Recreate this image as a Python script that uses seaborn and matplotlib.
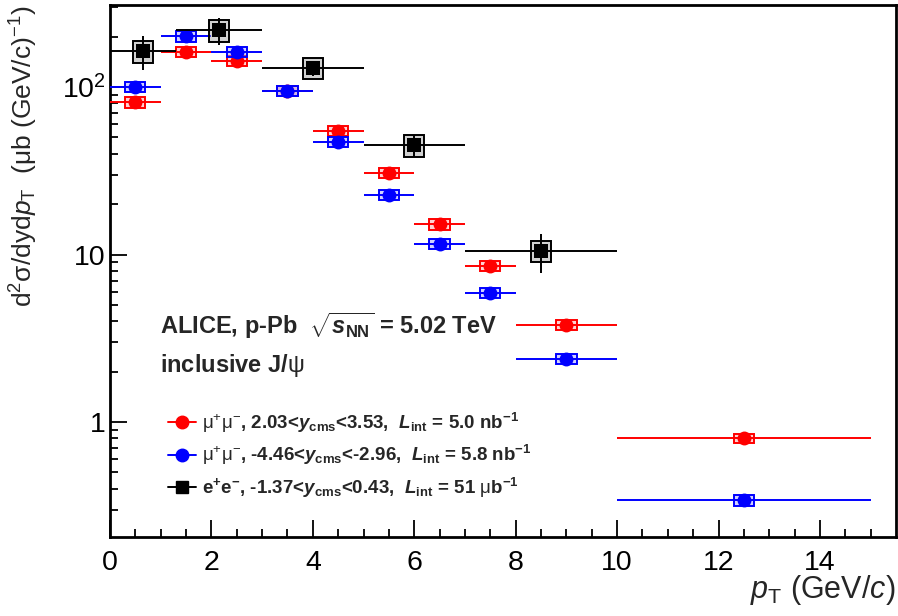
import numpy as np
import pandas as pd
import matplotlib
matplotlib.use("Agg")
import matplotlib.pyplot as plt
import seaborn as sns
from matplotlib.patches import Rectangle
from matplotlib.lines import Line2D
from matplotlib.ticker import FixedLocator, NullFormatter, LogLocator

# --- data ---
# forward muons, 2.03 < y_cms < 3.53
fwd_lo = [0, 1, 2, 3, 4, 5, 6, 7, 8, 10]
fwd_hi = [1, 2, 3, 4, 5, 6, 7, 8, 10, 15]
fwd_y = [81, 162, 143, 95, 54.7, 30.7, 15.2, 8.54, 3.80, 0.80]
fwd_stat = [1.5, 2.5, 2.5, 1.5, 1.0, 0.6, 0.3, 0.2, 0.1, 0.03]
fwd_sys = [6, 11, 10, 7, 4, 2.2, 1.1, 0.6, 0.27, 0.05]

# backward muons, -4.46 < y_cms < -2.96
bwd_lo = [0, 1, 2, 3, 4, 5, 6, 7, 8, 10]
bwd_hi = [1, 2, 3, 4, 5, 6, 7, 8, 10, 15]
bwd_y = [100, 201, 162, 95, 47, 22.7, 11.6, 5.89, 2.38, 0.342]
bwd_stat = [2.0, 3.5, 3.0, 1.5, 1.0, 0.5, 0.25, 0.15, 0.08, 0.02]
bwd_sys = [7, 14, 11, 7, 3.4, 1.6, 0.85, 0.42, 0.17, 0.025]

# dielectrons, -1.37 < y_cms < 0.43
ee_lo = [0, 1.3, 3, 5, 7]
ee_hi = [1.3, 3, 5, 7, 10]
ee_x = [0.65, 2.15, 4.0, 6.0, 8.5]
ee_y = [164, 219, 130, 45, 10.5]
ee_stat = [38, 40, 13, 7, 2.7]
ee_sys = [24, 32, 19, 6.5, 1.5]

labels = [
    r"$\mathrm{\mu^{+}\mu^{-}}$, 2.03<$\mathbfit{y}_{\mathbf{cms}}$<3.53,  "
    r"$\mathbfit{L}_{\mathbf{int}}$ = 5.0 nb$^{\mathbf{-1}}$",
    r"$\mathrm{\mu^{+}\mu^{-}}$, -4.46<$\mathbfit{y}_{\mathbf{cms}}$<-2.96,  "
    r"$\mathbfit{L}_{\mathbf{int}}$ = 5.8 nb$^{\mathbf{-1}}$",
    r"e$^{\mathbf{+}}$e$^{\mathbf{-}}$, -1.37<$\mathbfit{y}_{\mathbf{cms}}$<0.43,  "
    r"$\mathbfit{L}_{\mathbf{int}}$ = 51 $\mathrm{\mu}$b$^{\mathbf{-1}}$",
]

sns.set_theme(style="ticks")
plt.rcParams["font.family"] = ["Liberation Sans", "DejaVu Sans"]
plt.rcParams["mathtext.fontset"] = "custom"
plt.rcParams["mathtext.rm"] = "Liberation Sans"
plt.rcParams["mathtext.it"] = "Liberation Sans:italic"
plt.rcParams["mathtext.bf"] = "Liberation Sans:bold"
plt.rcParams["mathtext.bfit"] = "Liberation Sans:italic:bold"
plt.rcParams["mathtext.sf"] = "Liberation Sans"

fig = plt.figure(figsize=(8.98, 6.16), dpi=100)
ax_top, ax_bot = 5, 537
ax = fig.add_axes([110 / 898, 1 - ax_bot / 616, 786 / 898, (ax_bot - ax_top) / 616])


def draw_series(lo, hi, x, y, stat, sys_, color, fill, marker, ms, box_w, z):
    lo = np.array(lo, float)
    hi = np.array(hi, float)
    x = np.array(x, float)
    y = np.array(y, float)
    for xi, yi, si in zip(x, y, sys_):
        ax.add_patch(Rectangle((xi - box_w, yi - si), 2 * box_w, 2 * si,
                               facecolor=fill, edgecolor="none", alpha=0.45, zorder=z))
        ax.add_patch(Rectangle((xi - box_w, yi - si), 2 * box_w, 2 * si,
                               facecolor="none", edgecolor=color, lw=1.4, zorder=z + 0.2))
    ax.errorbar(x, y, xerr=[x - lo, hi - x], yerr=stat, fmt="none",
                ecolor=color, elinewidth=1.4, capsize=0, zorder=z + 0.1)
    df = pd.DataFrame({"pt": x, "val": y})
    sns.scatterplot(data=df, x="pt", y="val", ax=ax, color=color, marker=marker,
                    s=ms ** 2, edgecolor=color, linewidth=0, zorder=z + 0.3, legend=False)


fwd_x = [(a + b) / 2 for a, b in zip(fwd_lo, fwd_hi)]
bwd_x = [(a + b) / 2 for a, b in zip(bwd_lo, bwd_hi)]
draw_series(fwd_lo, fwd_hi, fwd_x, fwd_y, fwd_stat, fwd_sys, "#ff0000", "#ff9999", "o", 10, 0.2, 3)
draw_series(bwd_lo, bwd_hi, bwd_x, bwd_y, bwd_stat, bwd_sys, "#0000ff", "#9999ff", "o", 10, 0.2, 4)
draw_series(ee_lo, ee_hi, ee_x, ee_y, ee_stat, ee_sys, "#000000", "#999999", "s", 9.5, 0.2, 5)

ax.set_yscale("log")
ax.set_xlim(0, 15.5)
ax.set_ylim(0.206, 309)
ax.set_xlabel("")
ax.set_ylabel("")

ax.xaxis.set_major_locator(FixedLocator([0, 2, 4, 6, 8, 10, 12, 14]))
ax.xaxis.set_minor_locator(FixedLocator(np.arange(0, 15.01, 0.5)))
ax.yaxis.set_major_locator(FixedLocator([1, 10, 100]))
ax.set_yticklabels(["1", "10", r"$\mathregular{10^{2}}$"])
ax.yaxis.set_minor_locator(LogLocator(base=10, subs=np.arange(2, 10)))
ax.yaxis.set_minor_formatter(NullFormatter())

ax.tick_params(axis="both", which="both", direction="in", top=False, right=False,
               width=1.3, colors="black", labelsize=20.5)
ax.tick_params(axis="x", which="major", length=12, pad=9)
ax.tick_params(axis="y", which="major", length=12, pad=3)
ax.tick_params(axis="both", which="minor", length=6)
for sp in ax.spines.values():
    sp.set_linewidth(2)
    sp.set_color("black")
    sp.set_visible(True)

fig.text(895 / 898, 1 - 598 / 616, r"$p_{\mathregular{T}}$ (GeV/$c$)", ha="right",
         va="baseline", fontsize=22)
fig.text(40 / 898, 1 - 6 / 616,
         r"d$^{2}\mathrm{\sigma}$/d$\mathrm{y}$d$p_{\mathregular{T}}$  ($\mathregular{\mu}$b (GeV/c)$^{-1}$)",
         rotation=90, ha="right", va="top", fontsize=19)

fig.text(160 / 898, 1 - 334 / 616,
         r"ALICE, p-Pb  $\sqrt{\mathbfit{s}_{\mathbf{NN}}}$ = 5.02 TeV",
         fontsize=17, fontweight="bold", va="baseline")
fig.text(160 / 898, 1 - 372 / 616, r"inclusive J/$\mathrm{\psi}$",
         fontsize=17, fontweight="bold", va="baseline")

handles = [
    Line2D([], [], color="#ff0000", marker="o", ms=9, lw=1.4),
    Line2D([], [], color="#0000ff", marker="o", ms=9, lw=1.4),
    Line2D([], [], color="#000000", marker="s", ms=8.5, lw=1.4),
]
leg = ax.legend(handles, labels, loc="upper left",
                bbox_to_anchor=(50 / 786, 1 - (403 - ax_top) / (ax_bot - ax_top)),
                frameon=False, prop={"weight": "bold", "size": 13.5},
                handlelength=1.5, handletextpad=0.35, labelspacing=0.45, borderaxespad=0)

fig.savefig("out.png", dpi=100)
